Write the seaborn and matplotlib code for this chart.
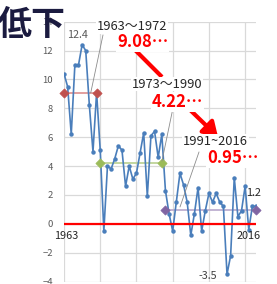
import matplotlib
matplotlib.use("Agg")
import matplotlib.pyplot as plt
import seaborn as sns
import pandas as pd
import numpy as np

# ---- data ----
years = list(range(1963, 2017))
growth = [10.4, 9.5, 6.2, 11.0, 11.0, 12.4, 12.0, 8.2, 5.0, 9.1,
          5.1, -0.5, 4.0, 3.8, 4.5, 5.4, 5.1, 2.6, 4.0, 3.1,
          3.5, 4.9, 6.3, 1.9, 6.1, 6.4, 4.6, 6.2,
          2.3, 0.7, -0.5, 1.5, 3.5, 2.7, 1.5, -0.8, 0.7, 2.5,
          -0.5, 0.9, 2.1, 1.5, 2.1, 1.5, 1.2, -3.5, -2.2, 3.2,
          0.5, 0.9, 2.6, -0.4, 1.2, 1.2]
period_labels = ["1963～1972", "1973～1990", "1991~2016"]
period_start = [1963, 1973, 1991]
period_end = [1972, 1990, 2016]
period_avg = [9.08, 4.22, 0.95]
avg_labels = ["9.08…", "4.22…", "0.95…"]
yticks = [-4, -2, 0, 2, 4, 6, 8, 10, 12, 14]

sns.set_theme(style="white")
plt.rcParams['font.family'] = ['Noto Sans CJK JP', 'DejaVu Sans']

fig = plt.figure(figsize=(2.77, 2.84), dpi=100)
ax = fig.add_axes([64/277, 2.5/284, 192/277, 259.8/284])

df = pd.DataFrame({"year": years, "growth": growth})

# grid
ax.set_xlim(1963, 2016)
ax.set_ylim(-4, 14)
ax.set_yticks(yticks)
ax.set_xticks([1963, 1973, 1983, 1993, 2003, 2013])
ax.set_xticklabels([])
ax.grid(True, color="#d9d9d9", lw=0.9)
ax.set_axisbelow(True)
for s in ax.spines.values():
    s.set_visible(False)
ax.tick_params(axis="y", length=0, pad=8, labelsize=6.8, labelcolor="#595959")
ax.tick_params(axis="x", length=0)

# average lines
line_cols = ["#de8f8d", "#b9d08f", "#b7a8cc"]
mk_cols = ["#c0504d", "#9bbb59", "#8064a2"]
for s, e, a, lc in zip(period_start, period_end, period_avg, line_cols):
    d = pd.DataFrame({"year": [s, e], "v": [a, a]})
    sns.lineplot(data=d, x="year", y="v", ax=ax, color=lc, lw=1.2, zorder=2)

# main series
sns.lineplot(data=df, x="year", y="growth", ax=ax, color="#4a7ebb", lw=1.2,
             marker="o", markersize=3.2, markeredgewidth=0, zorder=3)

for s, e, a, mc in zip(period_start, period_end, period_avg, mk_cols):
    d = pd.DataFrame({"year": [s, e], "v": [a, a]})
    sns.scatterplot(data=d, x="year", y="v", ax=ax, color=mc, marker="D", s=22,
                    edgecolor=mc, linewidth=0.5, zorder=4, clip_on=False)

ax.set_xlabel("")
ax.set_ylabel("")

# zero line
ax.axhline(0, color="#ff0000", lw=1.6, zorder=3.5)

# text helpers
def px(xp, yp):
    return 1963 + (xp - 64) / 3.6226, (223.8 - yp) / 14.43

fam = ['Noto Sans CJK JP', 'DejaVu Sans']
wbox = dict(facecolor="white", edgecolor="none", pad=0.5)

# leader lines
for (a, b) in [((103, 35), (90.7, 93)), ((173, 108), (162, 161)), ((199, 152), (180, 207))]:
    p1 = px(*a); p2 = px(*b)
    ax.plot([p1[0], p2[0]], [p1[1], p2[1]], color="#8c8c8c", lw=0.6, zorder=5)

# red arrows
p1 = px(135, 50); p2 = px(162, 77)
ax.plot([p1[0], p2[0]], [p1[1], p2[1]], color="#ff0000", lw=3.0, zorder=5,
        solid_capstyle="butt")
p1 = px(187, 107); p2 = px(218, 137)
ax.annotate("", xy=p2, xytext=p1, zorder=6,
            arrowprops=dict(arrowstyle="-|>,head_length=0.7,head_width=0.45",
                            color="#ff0000", lw=3.0, shrinkA=0, shrinkB=0))

# period labels
for lbl, (xp, yp) in zip(period_labels, [(97, 27), (131.5, 84.3), (183, 141.5)]):
    x, y = px(xp, yp)
    ax.text(x, y, lbl, ha="left", va="center", fontsize=9.3, color="#262626",
            family=fam, bbox=wbox, zorder=7)

for lbl, (xp, yp) in zip(avg_labels, [(117, 42.5), (151.5, 102), (207, 158)]):
    x, y = px(xp, yp)
    ax.text(x, y, lbl, ha="left", va="center", fontsize=12, color="#ff0000",
            fontweight="bold", family=fam, bbox=wbox, zorder=7)

# data labels
x, y = px(77.5, 35.5)
ax.text(x, y, "12.4", ha="center", va="center", fontsize=7.8, color="#595959", family=fam, zorder=7)
x, y = px(208, 276.3)
ax.text(x, y, "-3.5", ha="center", va="center", fontsize=7.8, color="#404040", family=fam, zorder=7)
x, y = px(253.3, 193)
ax.text(x, y, "1.2", ha="center", va="center", fontsize=7.8, color="#262626", family=fam, zorder=7)
x, y = px(248.7, 236)
ax.text(x, y, "2016", ha="center", va="center", fontsize=7.8, color="#262626", family=fam, zorder=7)
x, y = px(65.7, 236.5)
ax.text(x, y, "1963", ha="center", va="center", fontsize=7.8, color="#262626", family=fam, zorder=7)

# title-ish text
fig.text(-0.008, 1 - 24/284, "低下", ha="left", va="center", fontsize=24.5,
         fontweight="bold", color="#1b1b40", family=fam)

fig.savefig("out.png", dpi=100)
